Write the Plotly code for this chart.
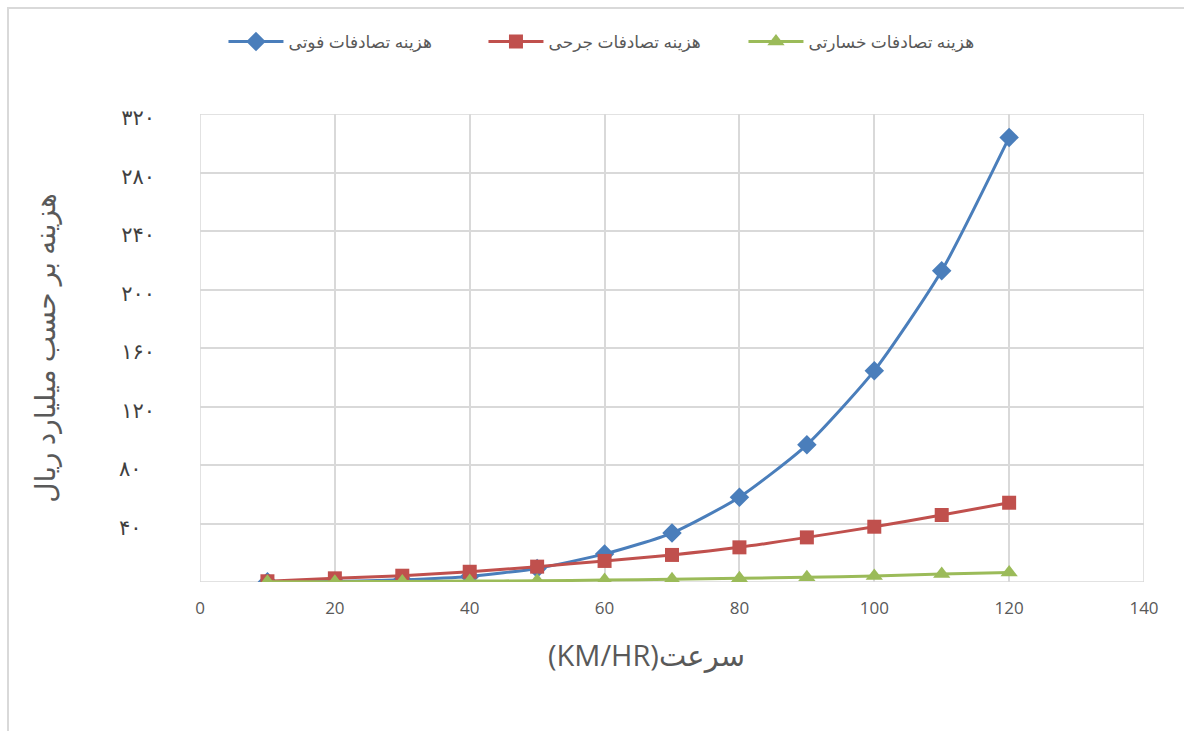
import plotly.graph_objects as go

# Speed (km/h)
speed = [10, 20, 30, 40, 50, 60, 70, 80, 90, 100, 110, 120]

# Accident costs (billion rials)
cost_fatal = [0.1, 0.4, 1.5, 3.8, 9.3, 19.2, 33.5, 58.0, 93.8, 144.5, 212.8, 304.0]
cost_injury = [0.5, 2.5, 4.3, 7.0, 10.5, 14.4, 18.5, 23.7, 30.5, 37.8, 45.8, 54.2]
cost_damage = [0.1, 0.2, 0.4, 0.6, 0.9, 1.3, 1.8, 2.5, 3.2, 4.1, 5.5, 6.5]

series_names = ["هزینه تصادفات فوتی", "هزینه تصادفات جرحی", "هزینه تصادفات خسارتی"]

y_tick_vals = [40, 80, 120, 160, 200, 240, 280, 320]
y_tick_text = ["۴۰\u2007", "۸۰\u2007", "۱۲۰", "۱۶۰", "۲۰۰", "۲۴۰", "۲۸۰", "۳۲۰"]
x_tick_vals = [0, 20, 40, 60, 80, 100, 120, 140]

# unit first so the Persian word sits on the right, as read right-to-left
x_title = "(KM/HR)سرعت"
y_title = "هزینه بر حسب میلیارد ریال"

styles = [
    dict(color="#4A7EBB", symbol="diamond", size=15),
    dict(color="#C0504D", symbol="square", size=14),
    dict(color="#9BBB59", symbol="triangle-up", size=15),
]

fig = go.Figure()
for name, vals, st in zip(series_names, [cost_fatal, cost_injury, cost_damage], styles):
    fig.add_trace(go.Scatter(
        x=speed, y=vals, name=name, mode="lines+markers",
        line=dict(color=st["color"], width=3, shape="spline", smoothing=0.6),
        marker=dict(color=st["color"], symbol=st["symbol"], size=st["size"]),
    ))

# Outer chart frame (left and top edges)
fig.add_shape(type="path", xref="paper", yref="paper",
              path="M 1.2,1.2265 L -0.2034,1.2265 L -0.2034,-0.4",
              line=dict(color="#D9D9D9", width=2), layer="below")

# x-axis title, set a little left of the plot centre
fig.add_annotation(text=x_title, xref="paper", yref="paper", x=0.4735, y=-0.155,
                   xanchor="center", yanchor="middle", showarrow=False,
                   font=dict(size=29, color="#595959"))

grid = "#D9D9D9"
fig.update_layout(
    width=1184, height=731,
    margin=dict(l=200, r=40, t=114, b=149),
    paper_bgcolor="white", plot_bgcolor="white",
    font=dict(family="Open Sans, DejaVu Sans", color="#595959"),
    showlegend=True,
    legend=dict(orientation="h", x=0.438, xanchor="center", y=1.154, yanchor="middle",
                font=dict(size=17, color="#595959"), itemwidth=55,
                entrywidth=190, entrywidthmode="pixels",
                traceorder="normal"),
    xaxis=dict(range=[0, 140], tickvals=x_tick_vals, showgrid=True, gridcolor=grid,
               gridwidth=1.5, zeroline=False, showline=False, ticks="",
               tickfont=dict(size=17, color="#595959"), ticklabelstandoff=14),
    yaxis=dict(range=[0, 320], tickvals=y_tick_vals, ticktext=y_tick_text,
               showgrid=True, gridcolor=grid, gridwidth=1.5, zeroline=False,
               showline=False, ticks="", ticklabelstandoff=44, ticklabelshift=4,
               tickfont=dict(size=21, color="#404040", family="DejaVu Sans"),
               title=dict(text=y_title, font=dict(size=28, color="#595959"), standoff=55)),
)
# plot area edges drawn as grid-coloured lines
fig.add_shape(type="rect", xref="x", yref="y", x0=0, x1=140, y0=0, y1=320,
              line=dict(color=grid, width=1.5), layer="below")

fig.write_html("out.html")
